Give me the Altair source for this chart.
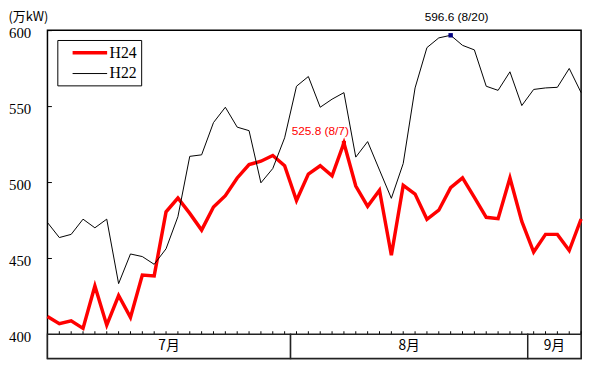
import altair as alt
import pandas as pd

# ---- data ----
h24 = [411.7, 407.0, 408.9, 403.9, 431.8, 406.0, 425.5, 411.1, 439.0, 438.4,
       480.5, 489.6, 479.5, 468.5, 483.7, 491.1, 502.8, 511.6, 513.8, 517.6,
       510.8, 488.0, 505.3, 510.8, 504.2, 525.8, 497.5, 484.1, 494.7, 452.0,
       497.9, 492.2, 475.6, 481.6, 496.4, 502.8, 490.0, 476.9, 476.0, 502.8,
       474.2, 454.1, 465.7, 465.7, 455.1, 475.8]
h22 = [473.5, 463.6, 465.7, 475.7, 470.0, 475.7, 433.3, 452.8, 451.1, 446.0,
       456.2, 477.3, 517.0, 518.0, 539.2, 549.3, 536.2, 533.9, 499.6, 509.0,
       529.2, 563.1, 569.5, 549.3, 554.6, 558.9, 516.5, 526.7, 508.0, 489.4,
       512.3, 562.0, 588.5, 594.9, 596.6, 590.0, 587.0, 563.1, 560.4, 572.6,
       550.4, 561.0, 562.0, 562.4, 574.8, 558.9]
series_names = ["H24", "H22"]
series_colors = ["#ff0000", "#000000"]
series_widths = [3.5, 1.0]
months = ["7月", "8月", "9月"]
month_days = [21, 20, 5]
y_ticks = [400, 450, 500, 550, 600]
peak_labels = ["525.8 (8/7)", "596.6 (8/20)"]

n = len(h24)
idx = list(range(n))
y_min, y_max = y_ticks[0], y_ticks[-1]
band_low = 384  # lower edge of the month band (in value units, below the axis)

df = pd.DataFrame({
    "i": idx + idx,
    "v": h24 + h22,
    "s": ["H24"] * n + ["H22"] * n,
})

# month band ranges
starts, ends, mids = [], [], []
c = 0
for d in month_days:
    s = max(c - 0.5, 0)
    e = min(c + d - 0.5, n - 1)
    starts.append(s)
    ends.append(e)
    mids.append((s + e) / 2)
    c += d
mdf = pd.DataFrame({"m": months, "start": starts, "end": ends, "mid": mids,
                    "lo": [band_low] * len(months), "hi": [y_min] * len(months),
                    "ym": [(band_low + y_min) / 2] * len(months)})
tdf = pd.DataFrame({"i": idx, "y": [y_min] * n})

p24 = h24.index(max(h24))
p22 = h22.index(max(h22))
ann24 = pd.DataFrame({"i": [p24], "v": [h24[p24]], "t": [peak_labels[0]]})
ann22 = pd.DataFrame({"i": [p22], "v": [h22[p22]], "t": [peak_labels[1]]})

x_scale = alt.Scale(domain=[0, n - 1], nice=False, zero=False)
y_scale = alt.Scale(domain=[band_low, y_max], nice=False, zero=False)

legend_kw = dict(
    title=None, orient="none", legendX=10, legendY=10,
    fillColor="white", strokeColor="black", padding=4,
    symbolType="M-2.5,0H2.5", symbolSize=196, symbolOffset=20,
    labelFont="Liberation Serif", labelFontSize=16, labelColor="black",
    labelOffset=11, rowPadding=5,
    labelExpr="datum.label + '\u00a0'",
)

lines = alt.Chart(df).mark_line().encode(
    x=alt.X("i:Q", scale=x_scale, axis=None),
    y=alt.Y("v:Q", scale=y_scale,
            axis=alt.Axis(values=y_ticks, grid=False, domain=False,
                          tickSize=4, offset=-4, tickColor="black",
                          labelPadding=17, labelOffset=2,
                          labelFont="Liberation Serif",
                          labelFontSize=15, labelColor="black",
                          title="(万kW)", titleAngle=0, titleAlign="left",
                          titleBaseline="alphabetic", titleX=-44, titleY=-10,
                          titleFont="Noto Sans CJK JP", titleFontSize=13,
                          titleFontWeight="normal", titleColor="black")),
    color=alt.Color("s:N", scale=alt.Scale(domain=series_names, range=series_colors),
                    legend=alt.Legend(**legend_kw)),
    strokeWidth=alt.StrokeWidth("s:N", scale=alt.Scale(domain=series_names, range=series_widths),
                                legend=alt.Legend(**legend_kw)),
)

# small day ticks on the bottom edge of the plot (lower half hidden by the band)
ticks = alt.Chart(tdf).mark_tick(orient="vertical", size=6, thickness=1, color="black", opacity=1).encode(
    x=alt.X("i:Q", scale=x_scale), y=alt.Y("y:Q", scale=y_scale))

band_rect = alt.Chart(mdf).mark_rect(fill="white", stroke="#222222", strokeWidth=1.5).encode(
    x=alt.X("start:Q", scale=x_scale), x2="end:Q",
    y=alt.Y("lo:Q", scale=y_scale), y2="hi:Q")
band_text = alt.Chart(mdf).mark_text(font="Noto Sans CJK JP", fontSize=14, color="black",
                                     baseline="middle").encode(
    x=alt.X("mid:Q", scale=x_scale), y=alt.Y("ym:Q", scale=y_scale), text="m:N")

m24 = alt.Chart(ann24).mark_square(size=18, color="#ff0000", opacity=1).encode(
    x=alt.X("i:Q", scale=x_scale), y=alt.Y("v:Q", scale=y_scale))
m22 = alt.Chart(ann22).mark_square(size=20, color="#000080", opacity=1).encode(
    x=alt.X("i:Q", scale=x_scale), y=alt.Y("v:Q", scale=y_scale))
t24 = alt.Chart(ann24).mark_text(align="right", baseline="bottom", dx=5, dy=-5,
                                 color="#ff0000", font="Liberation Sans", fontSize=12).encode(
    x=alt.X("i:Q", scale=x_scale), y=alt.Y("v:Q", scale=y_scale), text="t:N")
t22 = alt.Chart(ann22).mark_text(align="center", baseline="bottom", dx=6, dy=-12,
                                 color="#000000", font="Liberation Sans", fontSize=12).encode(
    x=alt.X("i:Q", scale=x_scale), y=alt.Y("v:Q", scale=y_scale), text="t:N")

chart = alt.layer(lines, ticks, band_rect, band_text, m24, m22, t24, t22).properties(
    width=588, height=354, padding=0, background="white",
    autosize=alt.AutoSizeParams(type="fit", contains="padding"),
).configure_view(stroke="black", strokeWidth=1.5)

chart.save("out.html", embed_options={"renderer": "svg", "actions": False})
